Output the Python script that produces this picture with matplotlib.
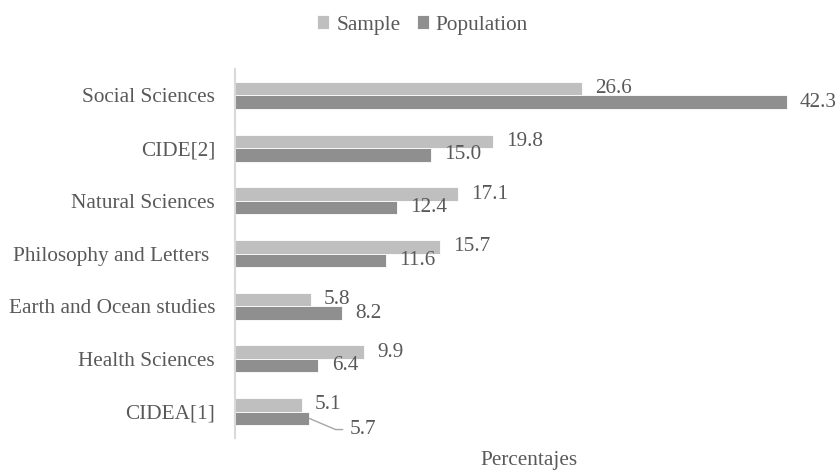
import numpy as np
import matplotlib.pyplot as plt

categories = ["Social Sciences", "CIDE[2]", "Natural Sciences",
              "Philosophy and Letters ", "Earth and Ocean studies",
              "Health Sciences", "CIDEA[1]"]
sample = [26.6, 19.8, 17.1, 15.7, 5.8, 9.9, 5.1]
population = [42.3, 15.0, 12.4, 11.6, 8.2, 6.4, 5.7]

plt.rcParams['font.family'] = ['Liberation Serif', 'DejaVu Serif']
text_color = "#595959"
c_sample = "#bfbfbf"
c_pop = "#8f8f8f"
fs = 15.3

fig = plt.figure(figsize=(8.39, 4.70), dpi=100)
ax = fig.add_axes([0.2801, 0.068, 0.6996, 0.785])

y = np.arange(len(categories))
h = 0.256
b1 = ax.barh(y - h/2, sample, height=h, color=c_sample, edgecolor="white",
             linewidth=0.6, label="Sample")
b2 = ax.barh(y + h/2, population, height=h, color=c_pop, edgecolor="white",
             linewidth=0.6, label="Population")

# value labels
for yi, v in zip(y - h/2, sample):
    ax.annotate(f"{v:.1f}", xy=(v, yi), xytext=(9.5, 0), textcoords="offset points",
                ha="left", va="center", fontsize=fs, color=text_color)
last = len(categories) - 1
for i, (yi, v) in enumerate(zip(y + h/2, population)):
    if i == last:
        # Excel moved this one down with a leader line
        ax.annotate(f"{v:.1f}", xy=(v, yi), xytext=(29, -8), textcoords="offset points",
                    ha="left", va="center", fontsize=fs, color=text_color,
                    arrowprops=dict(arrowstyle="-", color="#a6a6a6", lw=1,
                                    relpos=(0, 0.5), shrinkA=3, shrinkB=0,
                                    connectionstyle="angle,angleA=0,angleB=-23,rad=0"))
    else:
        ax.annotate(f"{v:.1f}", xy=(v, yi), xytext=(9.5, 0), textcoords="offset points",
                    ha="left", va="center", fontsize=fs, color=text_color)

ax.set_xlim(0, 45)
ax.set_ylim(len(categories) - 0.5, -0.5)
ax.set_yticks(y)
ax.set_yticklabels(categories, fontsize=fs, color=text_color)
ax.set_xticks([])
ax.tick_params(axis="y", length=0, pad=14.4)
for s in ["top", "right", "bottom"]:
    ax.spines[s].set_visible(False)
ax.spines["left"].set_color("#d9d9d9")
ax.spines["left"].set_linewidth(1.5)

ax.set_xlabel("Percentajes", fontsize=fs, color=text_color, labelpad=9)

fig.legend(handles=[b1, b2], loc="center", bbox_to_anchor=(422.5/839, 1 - 25/470),
           ncol=2, frameon=False, fontsize=fs, labelcolor=text_color,
           handlelength=0.57, handleheight=0.57, handletextpad=0.33,
           columnspacing=0.76, borderpad=0)

fig.savefig("out.png", dpi=100)
